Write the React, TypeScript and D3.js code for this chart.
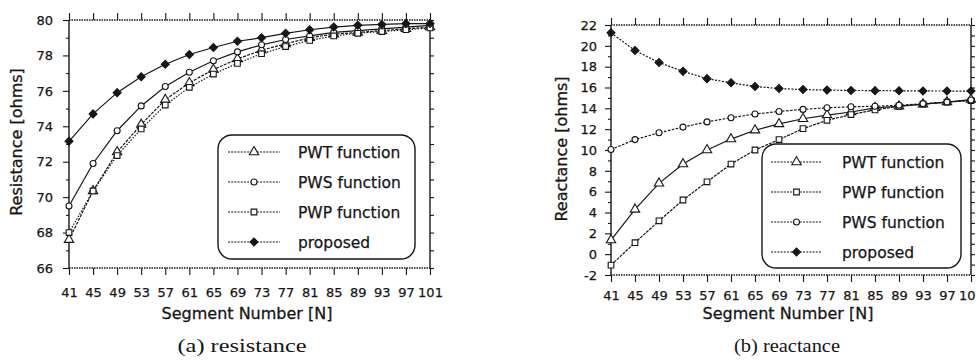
import React, { useEffect, useRef } from 'react';
import * as d3 from 'd3';

// Segment numbers on the x axis
const segments = [41, 45, 49, 53, 57, 61, 65, 69, 73, 77, 81, 85, 89, 93, 97, 101];

// (a) resistance [ohms]
const resPWT = [67.6, 70.35, 72.55, 74.1, 75.5, 76.45, 77.2, 77.8, 78.3, 78.65, 79.0, 79.2, 79.3, 79.4, 79.5, 79.6];
const resPWS = [69.5, 71.9, 73.75, 75.15, 76.25, 77.05, 77.7, 78.2, 78.6, 78.9, 79.1, 79.3, 79.4, 79.5, 79.6, 79.7];
const resPWP = [68.0, 70.35, 72.35, 73.85, 75.2, 76.2, 76.95, 77.55, 78.1, 78.5, 78.85, 79.1, 79.25, 79.35, 79.45, 79.55];
const resProposed = [73.15, 74.7, 75.9, 76.8, 77.5, 78.05, 78.45, 78.8, 79.0, 79.25, 79.45, 79.6, 79.7, 79.75, 79.8, 79.8];

// (b) reactance [ohms]
const reaPWT = [1.35, 4.3, 6.8, 8.65, 10.0, 11.05, 11.9, 12.5, 13.0, 13.35, 13.65, 14.05, 14.2, 14.4, 14.6, 14.85];
const reaPWP = [-1.05, 1.1, 3.2, 5.2, 6.95, 8.65, 10.0, 11.0, 12.05, 12.85, 13.4, 13.85, 14.2, 14.4, 14.6, 14.75];
const reaPWS = [10.05, 11.0, 11.65, 12.2, 12.7, 13.1, 13.45, 13.7, 13.9, 14.05, 14.15, 14.2, 14.3, 14.45, 14.6, 14.8];
const reaProposed = [21.25, 19.55, 18.4, 17.55, 16.85, 16.45, 16.1, 15.9, 15.8, 15.75, 15.72, 15.7, 15.68, 15.67, 15.66, 15.66];

const resTicks = [66, 68, 70, 72, 74, 76, 78, 80];
const reaTicks = [-2, 0, 2, 4, 6, 8, 10, 12, 14, 16, 18, 20, 22];

type Marker = 'triangle' | 'circle' | 'square' | 'diamond';

interface Series {
  name: string;
  values: number[];
  marker: Marker;
  dash: string;
}

interface PanelSpec {
  left: number;
  right: number;
  top: number;
  bottom: number;
  yDomain: [number, number];
  yTicks: number[];
  yTitle: string;
  yTitleX: number;
  yTitleY: number;
  xTitleX: number;
  caption: string;
  captionX: number;
  captionLen: number;
  xLabelPad: number;
  yLabelPad: number;
  series: Series[];
  legend: { x: number; y: number; w: number; h: number; lineX0: number; lineX1: number; textX: number; row0: number };
}

const INK = '#161616';
const SANS = 'DejaVu Sans, sans-serif';

const panels: PanelSpec[] = [
  {
    left: 69, right: 430, top: 20, bottom: 268,
    yDomain: [66, 80], yTicks: resTicks,
    yTitle: 'Resistance [ohms]', yTitleX: 21.5, yTitleY: 142,
    xTitleX: 247, caption: '(a) resistance', captionX: 242, captionLen: 129,
    xLabelPad: 12.5, yLabelPad: 10,
    series: [
      { name: 'PWT function', values: resPWT, marker: 'triangle', dash: '3,1.2' },
      { name: 'PWS function', values: resPWS, marker: 'circle', dash: '' },
      { name: 'PWP function', values: resPWP, marker: 'square', dash: '1.5,1.5' },
      { name: 'proposed', values: resProposed, marker: 'diamond', dash: '' },
    ],
    legend: { x: 218, y: 135, w: 197, h: 124, lineX0: 228, lineX1: 280, textX: 298, row0: 158 },
  },
  {
    left: 611, right: 971, top: 25, bottom: 275,
    yDomain: [-2, 22], yTicks: reaTicks,
    yTitle: 'Reactance [ohms]', yTitleX: 567, yTitleY: 149,
    xTitleX: 788, caption: '(b) reactance', captionX: 787, captionLen: 106,
    xLabelPad: 8.5, yLabelPad: 8,
    series: [
      { name: 'PWT function', values: reaPWT, marker: 'triangle', dash: '' },
      { name: 'PWP function', values: reaPWP, marker: 'square', dash: '3,1' },
      { name: 'PWS function', values: reaPWS, marker: 'circle', dash: '2.5,1.5' },
      { name: 'proposed', values: reaProposed, marker: 'diamond', dash: '2,1.5' },
    ],
    legend: { x: 762, y: 144, w: 199, h: 124, lineX0: 771, lineX1: 822, textX: 842, row0: 168 },
  },
];

function drawMarker(g: any, type: Marker, cx: number, cy: number) {
  if (type === 'circle') {
    g.append('circle').attr('cx', cx).attr('cy', cy).attr('r', 3)
      .attr('fill', '#fff').attr('stroke', INK).attr('stroke-width', 1.1);
    return;
  }
  const sym = type === 'triangle' ? d3.symbolTriangle : d3.symbolSquare;
  const size = type === 'triangle' ? 38 : type === 'square' ? 32 : 32;
  g.append('path')
    .attr('d', d3.symbol().type(sym).size(size)())
    .attr('transform', `translate(${cx},${cy})${type === 'diamond' ? ' rotate(45)' : ''}`)
    .attr('fill', type === 'diamond' ? INK : '#fff')
    .attr('stroke', INK)
    .attr('stroke-width', 1.1);
}

function drawPanel(svg: any, p: PanelSpec) {
  const x = d3.scaleLinear().domain([41, 101]).range([p.left, p.right]);
  const y = d3.scaleLinear().domain(p.yDomain).range([p.bottom, p.top]);
  const g = svg.append('g');

  const styleAxis = (a: any) => {
    a.select('.domain').remove();
    a.selectAll('line').attr('stroke', INK).attr('stroke-width', 1.1);
    a.selectAll('text').attr('font-family', SANS).attr('font-size', 13).attr('fill', INK)
      .attr('stroke', INK).attr('stroke-width', 0.25);
  };

  const allY = d3.range(p.yDomain[0], p.yDomain[1] + 1, 1);
  const minorY = allY.filter((v) => !p.yTicks.includes(v));

  // bottom axis with labels
  g.append('g').attr('transform', `translate(0,${p.bottom})`)
    .call(d3.axisBottom(x).tickValues(segments).tickSize(7).tickPadding(p.xLabelPad).tickFormat((d: any) => String(d)))
    .call(styleAxis);
  // top axis ticks
  g.append('g').attr('transform', `translate(0,${p.top})`)
    .call(d3.axisTop(x).tickValues(segments).tickSize(7).tickFormat(() => ''))
    .call(styleAxis);
  // left axis major + minor
  g.append('g').attr('transform', `translate(${p.left},0)`)
    .call(d3.axisLeft(y).tickValues(p.yTicks).tickSize(6).tickPadding(p.yLabelPad).tickFormat((d: any) => String(d)))
    .call(styleAxis);
  g.append('g').attr('transform', `translate(${p.left},0)`)
    .call(d3.axisLeft(y).tickValues(minorY).tickSize(3).tickFormat(() => ''))
    .call(styleAxis);
  // right axis ticks
  g.append('g').attr('transform', `translate(${p.right},0)`)
    .call(d3.axisRight(y).tickValues(allY).tickSize(4).tickFormat(() => ''))
    .call(styleAxis);

  // frame
  g.append('line').attr('x1', p.left).attr('x2', p.left).attr('y1', p.top).attr('y2', p.bottom)
    .attr('stroke', INK).attr('stroke-width', 1.4);
  g.append('line').attr('x1', p.right).attr('x2', p.right).attr('y1', p.top).attr('y2', p.bottom)
    .attr('stroke', INK).attr('stroke-width', 1.4);
  [p.top, p.bottom].forEach((yy) => {
    g.append('line').attr('x1', p.left).attr('x2', p.right).attr('y1', yy).attr('y2', yy)
      .attr('stroke', INK).attr('stroke-width', 1.4).attr('stroke-dasharray', '1.5,1');
  });

  // series
  const line = d3.line<number>().x((_d, i) => x(segments[i])).y((d) => y(d));
  p.series.forEach((s) => {
    g.append('path').datum(s.values)
      .attr('fill', 'none').attr('stroke', INK).attr('stroke-width', 1.2)
      .attr('stroke-dasharray', s.dash || null)
      .attr('d', line);
  });
  p.series.forEach((s) => {
    s.values.forEach((v, i) => drawMarker(g, s.marker, x(segments[i]), y(v)));
  });

  // legend
  const L = p.legend;
  g.append('rect').attr('x', L.x).attr('y', L.y).attr('width', L.w).attr('height', L.h)
    .attr('rx', 14).attr('fill', '#fff').attr('stroke', INK).attr('stroke-width', 1.4);
  p.series.forEach((s, i) => {
    const by = L.row0 + i * 30;
    const ly = by - 6;
    g.append('line').attr('x1', L.lineX0).attr('x2', L.lineX1).attr('y1', ly).attr('y2', ly)
      .attr('stroke', INK).attr('stroke-width', 1.1).attr('stroke-dasharray', '2,1.2');
    drawMarker(g, s.marker, (L.lineX0 + L.lineX1) / 2, ly);
    g.append('text').attr('x', L.textX).attr('y', by)
      .attr('font-family', SANS).attr('font-size', 15.5).attr('fill', INK)
      .attr('stroke', INK).attr('stroke-width', 0.25).text(s.name);
  });

  // titles
  g.append('text').attr('transform', `translate(${p.yTitleX},${p.yTitleY}) rotate(-90)`)
    .attr('text-anchor', 'middle').attr('font-family', SANS).attr('font-size', 16).attr('fill', INK)
    .attr('stroke', INK).attr('stroke-width', 0.3)
    .text(p.yTitle);
  g.append('text').attr('x', p.xTitleX).attr('y', 319)
    .attr('text-anchor', 'middle').attr('font-family', SANS).attr('font-size', 16).attr('fill', INK)
    .attr('stroke', INK).attr('stroke-width', 0.3)
    .text('Segment Number [N]');
  g.append('text').attr('x', p.captionX).attr('y', 352)
    .attr('text-anchor', 'middle').attr('font-family', 'Liberation Serif, serif').attr('font-size', 19)
    .attr('textLength', p.captionLen).attr('lengthAdjust', 'spacingAndGlyphs').attr('fill', INK)
    .text(p.caption);
}

export default function App() {
  const ref = useRef<SVGSVGElement>(null);
  useEffect(() => {
    if (!ref.current) return;
    const svg = d3.select(ref.current);
    svg.selectAll('*').remove();
    svg.append('rect').attr('width', 976).attr('height', 364).attr('fill', '#fff');
    panels.forEach((p) => drawPanel(svg, p));
  }, []);
  return (
    <svg ref={ref} width={976} height={364}
      style={{ position: 'absolute', left: 0, top: 0, display: 'block' }} />
  );
}
